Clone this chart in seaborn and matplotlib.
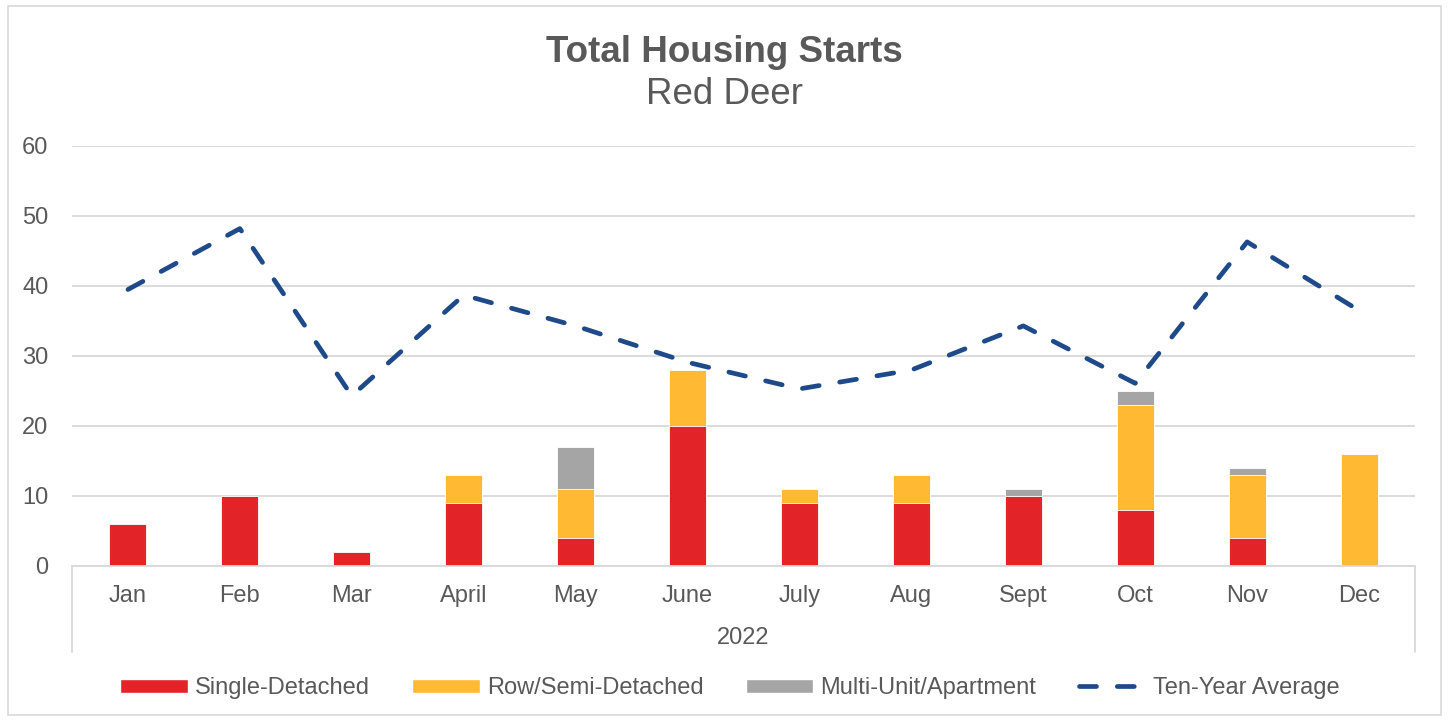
import numpy as np
import pandas as pd
import seaborn as sns
import matplotlib.pyplot as plt
from matplotlib.patches import Patch, Rectangle
from matplotlib.lines import Line2D

months = ["Jan", "Feb", "Mar", "April", "May", "June", "July", "Aug", "Sept", "Oct", "Nov", "Dec"]
single_detached = [6, 10, 2, 9, 4, 20, 9, 9, 10, 8, 4, 0]
row_semi = [0, 0, 0, 4, 7, 8, 2, 4, 0, 15, 9, 16]
multi_unit = [0, 0, 0, 0, 6, 0, 0, 0, 1, 2, 1, 0]
ten_year_avg = [39.5, 48.2, 24.3, 38.7, 34.3, 29.1, 25.3, 28.0, 34.3, 26.1, 46.3, 36.5]

RED = "#E22428"
YELLOW = "#FFB933"
GRAY = "#A5A5A5"
BLUE = "#1F4A8A"
TEXT = "#595959"

sns.set_style("white")
plt.rcParams["font.family"] = ["Liberation Sans", "DejaVu Sans"]

df = pd.DataFrame({
    "month": months,
    "single": single_detached,
    "row": row_semi,
    "multi": multi_unit,
})
df["single_row"] = df["single"] + df["row"]
df["total"] = df["single_row"] + df["multi"]

fig = plt.figure(figsize=(14.49, 7.21), dpi=100)
ax = fig.add_axes([72 / 1449, 1 - 566 / 721, (1415 - 72) / 1449, (566 - 146) / 721])

# stacked bars: draw cumulative totals from the top layer down
bar_kw = dict(width=0.33, edgecolor="white", linewidth=0.6, ax=ax, zorder=2)
sns.barplot(data=df, x="month", y="total", color=GRAY, saturation=1, **bar_kw)
sns.barplot(data=df, x="month", y="single_row", color=YELLOW, saturation=1, **bar_kw)
sns.barplot(data=df, x="month", y="single", color=RED, saturation=1, **bar_kw)

sns.lineplot(x=np.arange(len(months)), y=ten_year_avg, ax=ax, color=BLUE, lw=3.4,
             dashes=False, zorder=3)
line = ax.lines[-1]
line.set_linestyle((0, (3.6, 4.4)))
line.set_dash_capstyle("round")

ax.set_xlim(-0.5, len(months) - 0.5)
ax.set_ylim(0, 60)
ax.set_yticks(range(0, 61, 10))
ax.set_xlabel("")
ax.set_ylabel("")
ax.grid(axis="y", color="#D9D9D9", lw=1.3, zorder=0)
ax.set_axisbelow(True)
for s in ["top", "right", "left"]:
    ax.spines[s].set_visible(False)
ax.spines["bottom"].set_color("#D9D9D9")
ax.spines["bottom"].set_linewidth(1.3)
ax.tick_params(axis="both", length=0, labelsize=17, labelcolor=TEXT)
ax.tick_params(axis="x", pad=14)
ax.tick_params(axis="y", pad=17)

# group-label box lines under the category axis
for xv in [0, 1]:
    ax.plot([xv, xv], [0, -86 / 420], transform=ax.transAxes, color="#D9D9D9",
            lw=1.3, clip_on=False)

fig.text(0.513, 1 - 638 / 721, "2022", ha="center", va="center", fontsize=17, color=TEXT)

fig.text(0.5, 1 - 53 / 721, "Total Housing Starts", ha="center", va="center",
         fontsize=26.5, fontweight="bold", color=TEXT)
fig.text(0.5, 1 - 95 / 721, "Red Deer", ha="center", va="center", fontsize=26.5, color=TEXT)

handles = [
    Patch(facecolor=RED, label="Single-Detached"),
    Patch(facecolor=YELLOW, label="Row/Semi-Detached"),
    Patch(facecolor=GRAY, label="Multi-Unit/Apartment"),
    Line2D([0], [0], color=BLUE, lw=3.4, linestyle=(0, (3.6, 4.4)),
           dash_capstyle="round", label="Ten-Year Average"),
]
leg = fig.legend(handles=handles, loc="center", bbox_to_anchor=(730 / 1449, 1 - 688 / 721),
                 ncol=4, frameon=False, fontsize=17, handlelength=2.85, handleheight=0.55,
                 handletextpad=0.3, columnspacing=1.8)
for t in leg.get_texts():
    t.set_color(TEXT)

fig.patches.append(Rectangle((8 / 1449, 6 / 721), 1 - 16 / 1449, 1 - 12 / 721,
                             transform=fig.transFigure, fill=False,
                             edgecolor="#D9D9D9", lw=1.2))

fig.savefig("out.png", dpi=100)
plt.close(fig)
